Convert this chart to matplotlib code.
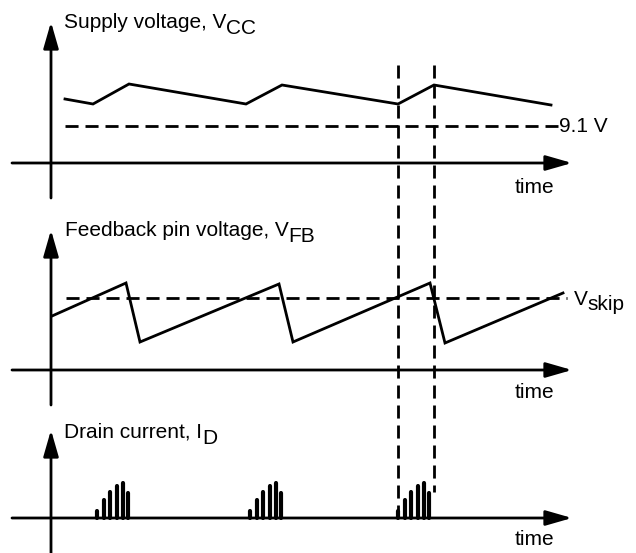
import numpy as np
import matplotlib
matplotlib.use("Agg")
import matplotlib.pyplot as plt

plt.rcParams['font.family'] = ['Liberation Sans', 'DejaVu Sans']
plt.rcParams['lines.scale_dashes'] = False

# time axis is a plain left-to-right scale, values are heights above each baseline
# supply voltage Vcc
vcc_t = [65, 93, 129, 246, 282, 398, 434, 551]
vcc_v = [64, 59, 79, 59, 78, 59, 78, 58]
vcc_min = 37          # 9.1 V level

# feedback pin voltage
fb_t = [52, 126, 140, 279, 293, 430, 445, 563]
fb_v = [54, 87, 28, 86, 28, 87, 27, 77]
vskip = 72

# drain current bursts
burst_start = [97, 250, 398]
pulse_dt = [0, 6.5, 13, 19.5, 25.5, 31]
pulse_h = [7, 18, 26, 32, 35, 25]

# skip-mode markers (vertical dashed lines)
mark_t = [398, 434]

base = [163, 370, 518]          # time-axis position of each trace
yaxis_span = [(198, 22), (405, 230), (553, 430)]
t_axis = (12, 572)
y_axis_x = 51

FS = 15
LW = 2.0
DASH = (9.4, 5.0)

fig = plt.figure(figsize=(6.36, 5.53), dpi=100)
ax = fig.add_axes([0, 0, 1, 1])
ax.set_xlim(0, 636)
ax.set_ylim(553, 0)
ax.axis('off')

arrow = dict(arrowstyle='-|>,head_length=1.6,head_width=0.46', lw=LW,
             color='k', shrinkA=0, shrinkB=0, mutation_scale=10)

for b, (y0, y1) in zip(base, yaxis_span):
    ax.annotate('', xy=(t_axis[1], b), xytext=(t_axis[0], b), arrowprops=arrow)
    ax.annotate('', xy=(y_axis_x, y1), xytext=(y_axis_x, y0), arrowprops=arrow)

# panel 1
ax.plot(vcc_t, base[0] - np.array(vcc_v), color='k', lw=LW, solid_joinstyle='miter')
ax.plot([65, 558], [base[0] - vcc_min] * 2, color='k', lw=LW, dashes=DASH)

# panel 2
ax.plot(fb_t, base[1] - np.array(fb_v), color='k', lw=LW, solid_joinstyle='miter')
ax.plot([66, 567], [base[1] - vskip] * 2, color='k', lw=LW, dashes=DASH)

# panel 3
for s in burst_start:
    xs = s + np.array(pulse_dt)
    ax.vlines(xs, base[2], base[2] - np.array(pulse_h), color='k', lw=3.0,
              capstyle='round')

# vertical dashed markers
ax.plot([mark_t[0]] * 2, [65, base[2]], color='k', lw=LW, dashes=DASH)
ax.plot([mark_t[1]] * 2, [65, 492], color='k', lw=LW, dashes=DASH)


def label(x, y, main, sub=None, drop=4.3):
    t = ax.text(x, y, main, fontsize=FS, ha='left', va='baseline')
    if sub:
        ax.annotate(sub, xy=(1, 0), xycoords=t, xytext=(0, -drop),
                    textcoords='offset points', fontsize=FS,
                    ha='left', va='bottom')
    return t


label(64, 28, 'Supply voltage, V', 'CC')
label(65, 236, 'Feedback pin voltage, V', 'FB')
label(64, 438, 'Drain current, I', 'D')
label(559, 132, '9.1 V')
label(574, 305, 'V', 'skip', drop=3.6)
for yb in [193, 398, 545]:
    label(515, yb, 'time')

fig.savefig('out.png', dpi=100)
